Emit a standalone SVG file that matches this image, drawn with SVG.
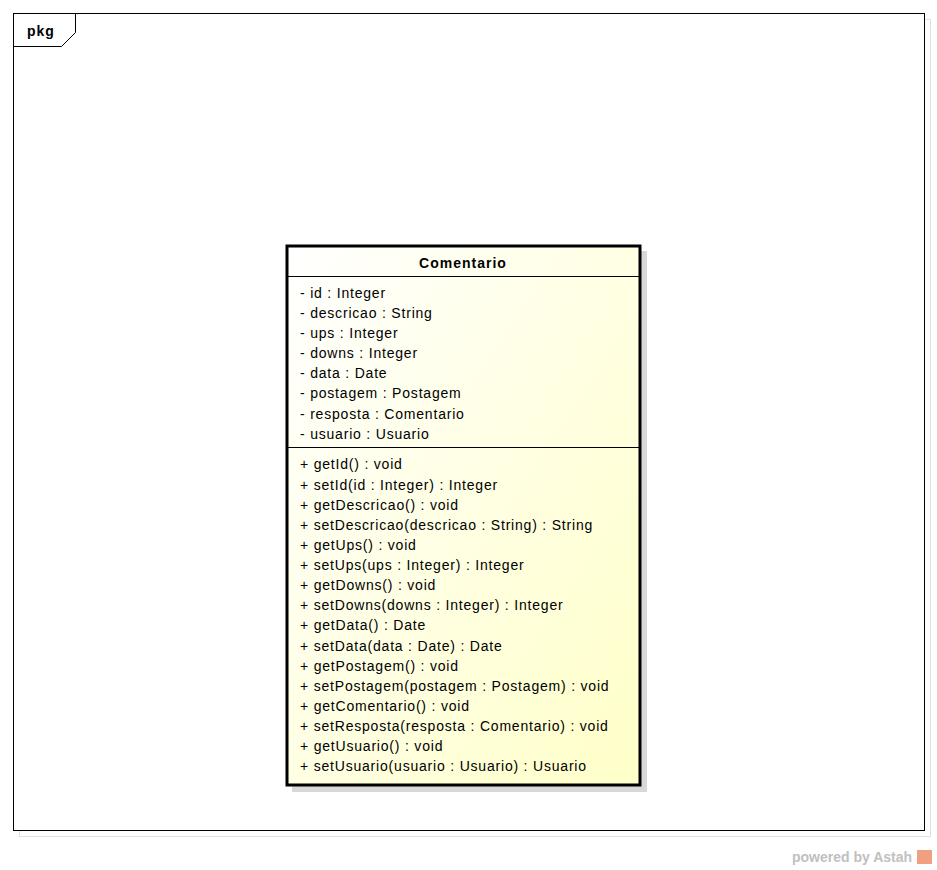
<svg xmlns="http://www.w3.org/2000/svg" width="937" height="870" viewBox="0 0 937 870">
<style>
.t{font-family:"Liberation Sans",Arial,sans-serif;font-size:14px;fill:#000;letter-spacing:0.8px}
.b{font-weight:bold;letter-spacing:1px}
</style>
<defs>
<linearGradient id="g" x1="0" y1="0" x2="1" y2="1">
<stop offset="0" stop-color="#ffffff"/>
<stop offset="1" stop-color="#ffffc8"/>
</linearGradient>
</defs>
<rect width="937" height="870" fill="#fff"/>
<g id="frame">
<rect x="19.5" y="19.5" width="911" height="817" fill="none" stroke="#e0e0e0" stroke-width="1"/>
<rect x="13.5" y="13.5" width="911" height="817" fill="#fff" stroke="#000" stroke-width="1"/>
<path d="M13.5 46.5 H61.5 L75.5 32.5 V13.5" fill="none" stroke="#000" stroke-width="1"/>
<text x="27" y="36" class="t b">pkg</text>
</g>
<g id="Comentario">
<rect x="292" y="251" width="355" height="541" fill="#d8d8d8"/>
<rect x="287" y="246" width="353" height="539" fill="url(#g)" stroke="#000" stroke-width="3"/>
<line x1="287" y1="276.5" x2="640" y2="276.5" stroke="#000" stroke-width="1"/>
<line x1="287" y1="447.5" x2="640" y2="447.5" stroke="#000" stroke-width="1"/>
<text x="463" y="268" class="t b" text-anchor="middle">Comentario</text>
<text class="t" x="300">
<tspan x="300" y="298">- id : Integer</tspan>
<tspan x="300" y="318">- descricao : String</tspan>
<tspan x="300" y="338">- ups : Integer</tspan>
<tspan x="300" y="358">- downs : Integer</tspan>
<tspan x="300" y="378">- data : Date</tspan>
<tspan x="300" y="398">- postagem : Postagem</tspan>
<tspan x="300" y="419">- resposta : Comentario</tspan>
<tspan x="300" y="439">- usuario : Usuario</tspan>
</text>
<text class="t" x="300">
<tspan x="300" y="469">+ getId() : void</tspan>
<tspan x="300" y="490">+ setId(id : Integer) : Integer</tspan>
<tspan x="300" y="510">+ getDescricao() : void</tspan>
<tspan x="300" y="530">+ setDescricao(descricao : String) : String</tspan>
<tspan x="300" y="550">+ getUps() : void</tspan>
<tspan x="300" y="570">+ setUps(ups : Integer) : Integer</tspan>
<tspan x="300" y="590">+ getDowns() : void</tspan>
<tspan x="300" y="610">+ setDowns(downs : Integer) : Integer</tspan>
<tspan x="300" y="630">+ getData() : Date</tspan>
<tspan x="300" y="651">+ setData(data : Date) : Date</tspan>
<tspan x="300" y="671">+ getPostagem() : void</tspan>
<tspan x="300" y="691">+ setPostagem(postagem : Postagem) : void</tspan>
<tspan x="300" y="711">+ getComentario() : void</tspan>
<tspan x="300" y="731">+ setResposta(resposta : Comentario) : void</tspan>
<tspan x="300" y="751">+ getUsuario() : void</tspan>
<tspan x="300" y="771">+ setUsuario(usuario : Usuario) : Usuario</tspan>
</text>
</g>
<g id="connectors"></g>
<g id="watermark">
<text x="792" y="862" font-family="Liberation Sans,Arial,sans-serif" font-size="14" font-weight="bold" fill="#c0c0c0">powered by Astah</text>
<rect x="917" y="850" width="15" height="14" fill="#f0a080"/>
</g>
</svg>
